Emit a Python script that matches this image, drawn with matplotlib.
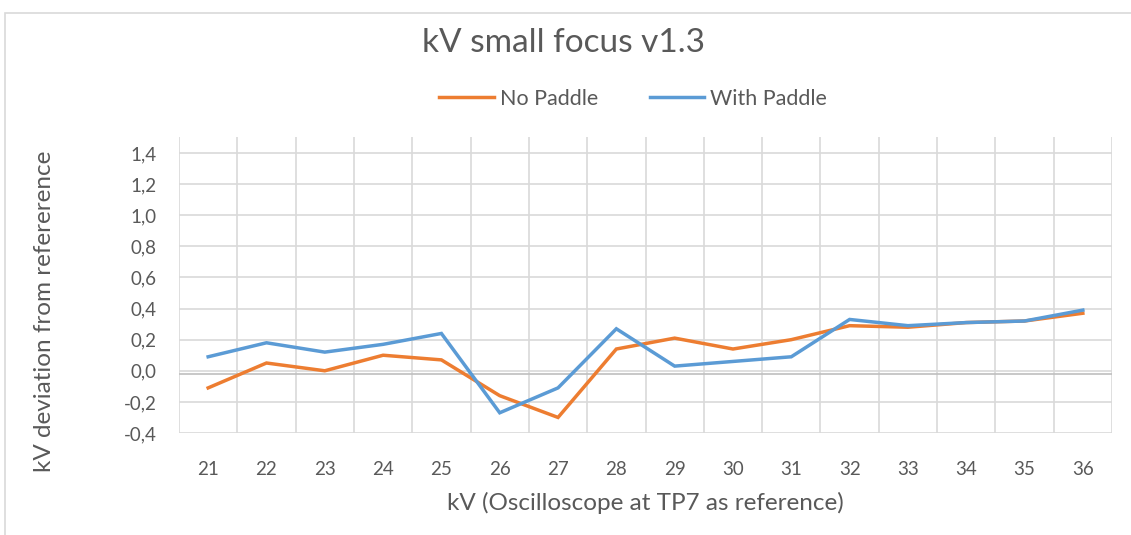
import matplotlib
matplotlib.use("Agg")
import matplotlib.pyplot as plt
from matplotlib.patches import Rectangle
import numpy as np

plt.rcParams['font.family'] = ['Lato', 'DejaVu Sans']

kv = [21, 22, 23, 24, 25, 26, 27, 28, 29, 30, 31, 32, 33, 34, 35, 36]
no_paddle = [-0.11, 0.05, 0.0, 0.10, 0.07, -0.16, -0.30, 0.14, 0.21, 0.14,
             0.20, 0.29, 0.28, 0.31, 0.32, 0.37]
with_paddle = [0.09, 0.18, 0.12, 0.17, 0.24, -0.27, -0.11, 0.27, 0.03, 0.06,
               0.09, 0.33, 0.29, 0.31, 0.32, 0.39]
yticks = [-0.4, -0.2, 0.0, 0.2, 0.4, 0.6, 0.8, 1.0, 1.2, 1.4]

orange = "#ED7D31"
blue = "#5B9BD5"
txt = "#595959"
grid = "#D9D9D9"

fig = plt.figure(figsize=(11.31, 5.35), dpi=100)
fig.patch.set_facecolor("white")

# chart area border
fig.patches.append(Rectangle((5 / 1131, -0.05), 1.1, 1 - 13 / 535 + 0.05,
                             transform=fig.transFigure, fill=False,
                             edgecolor="#D9D9D9", linewidth=1.2))

ax = fig.add_axes([179 / 1131, 1 - 433 / 535, (1112 - 179) / 1131, (433 - 137) / 535])

x = np.arange(len(kv))
ax.plot(x, no_paddle, color=orange, linewidth=2.5, label="No Paddle",
        solid_joinstyle="miter", zorder=3)
ax.plot(x, with_paddle, color=blue, linewidth=2.5, label="With Paddle",
        solid_joinstyle="miter", zorder=4)

ax.set_xlim(-0.5, len(kv) - 0.5)
ax.set_ylim(-0.4, 1.503)
ax.set_xticks(x)
ax.set_xticklabels([str(k) for k in kv])
ax.set_xticks(np.arange(len(kv) + 1) - 0.5, minor=True)
ax.set_yticks(yticks)
ax.set_yticklabels([f"{v:.1f}".replace(".", ",") for v in yticks])

ax.grid(True, which="minor", axis="x", color=grid, linewidth=1.2)
ax.grid(True, which="major", axis="y", color=grid, linewidth=1.2)
ax.set_axisbelow(True)
for s in ax.spines.values():
    s.set_visible(False)
ax.axhline(-0.02, color="#BFBFBF", linewidth=1.2, zorder=2)

ax.tick_params(which="both", length=0)
ax.tick_params(axis="y", labelsize=13.5, labelcolor=txt, pad=16)
ax.tick_params(axis="x", labelsize=13.5, labelcolor=txt, pad=20)

ax.set_xlabel("kV (Oscilloscope at TP7 as reference)", fontsize=17.5, color=txt)
ax.xaxis.set_label_coords(0.5, -(492 - 433) / 296)
ax.set_ylabel("kV deviation from refererence", fontsize=17.5, color=txt)
ax.yaxis.set_label_coords(-(179 - 55) / 933, (433 - 311) / 296)

fig.text(563 / 1131, 1 - 43 / 535, "kV small focus v1.3", ha="center", va="center",
         fontsize=24, color=txt)
fig.legend(loc="center", bbox_to_anchor=(633 / 1131, 1 - 99 / 535), ncol=2, frameon=False,
           fontsize=15.5, labelcolor=txt, handlelength=2.55, columnspacing=2.4,
           handletextpad=0.25)

fig.savefig("out.png", dpi=100, facecolor="white")
